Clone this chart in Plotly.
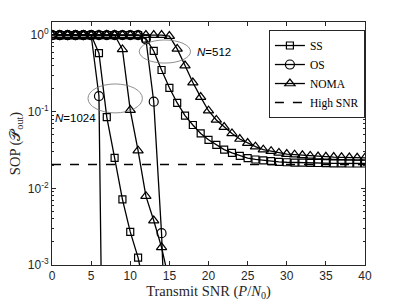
import plotly.graph_objects as go

# ---------------- data ----------------
snr = list(range(0, 41))

# N = 1024
ss_1024 = [1, 1, 1, 1, 1, 1, 0.58, 0.085, 0.025, 0.0072, 0.0027, 0.00125, 0.0004]
os_1024 = [1, 1, 1, 1, 1, 1, 0.16, 1e-9]
noma_1024 = [1, 1, 1, 1, 1, 1, 1, 1, 1, 0.65, 0.105, 0.031, 0.0079, 0.0038, 0.0017, 0.0006]

# N = 512
ss_512 = [1, 1, 1, 1, 1, 1, 1, 1, 1, 1, 1, 1,
          0.9, 0.62, 0.35, 0.205, 0.13, 0.089, 0.067, 0.052, 0.043, 0.037,
          0.032, 0.029, 0.0265, 0.0248, 0.0238, 0.0231, 0.0226, 0.0222, 0.0219,
          0.0217, 0.0216, 0.0215, 0.0214, 0.0213, 0.0212, 0.0212, 0.0211, 0.0211, 0.0211]
os_512 = [1, 1, 1, 1, 1, 1, 1, 1, 1, 1, 1, 1, 0.88, 0.135, 0.0026, 6e-6]
noma_512 = [1, 1, 1, 1, 1, 1, 1, 1, 1, 1, 1, 1, 1, 1, 1,
            0.97, 0.66, 0.40, 0.24, 0.155, 0.103, 0.078, 0.063, 0.052, 0.044,
            0.039, 0.035, 0.032, 0.0305, 0.029, 0.028, 0.0275, 0.027, 0.0265,
            0.026, 0.0258, 0.0256, 0.0254, 0.0252, 0.025, 0.025]

high_snr_x = [0, 40]
high_snr_y = [0.0205, 0.0205]

ytick_vals = [1e-3, 1e-2, 1e-1, 1]
ytick_text = ["10<sup>-3</sup>", "10<sup>-2</sup>", "10<sup>-1</sup>", "10<sup>0</sup>"]
xtick_vals = [0, 5, 10, 15, 20, 25, 30, 35, 40]

# ---------------- figure ----------------
INK = "#262626"
fig = go.Figure()


def add(y, sym, size, name, show):
    fig.add_trace(go.Scatter(
        x=snr[:len(y)], y=y, mode="lines+markers", name=name, showlegend=show,
        line=dict(color="black", width=1.3),
        marker=dict(symbol=sym, size=size, color="black",
                    line=dict(width=1.2, color="black")),
    ))


add(ss_512, "square-open", 7, "SS", True)
add(os_512, "circle-open", 9, "OS", True)
add(noma_512, "triangle-up-open", 9, "NOMA", True)
add(ss_1024, "square-open", 7, "SS", False)
add(os_1024, "circle-open", 9, "OS", False)
add(noma_1024, "triangle-up-open", 9, "NOMA", False)

fig.add_trace(go.Scatter(
    x=high_snr_x, y=high_snr_y, mode="lines", name="High SNR",
    line=dict(color="black", width=1.5, dash="dash"),
))

# ellipses (grey) and labels
fig.add_shape(type="circle", xref="x", yref="y domain",
              x0=4.6, x1=11.55, y0=0.626, y1=0.745,
              line=dict(color="#707070", width=0.8))
fig.add_shape(type="circle", xref="x", yref="y domain",
              x0=11.15, x1=17.7, y0=0.831, y1=0.926,
              line=dict(color="#707070", width=0.8))
fig.add_annotation(x=0.15, y=-1.08, xref="x", yref="y", text="<i>N</i>=1024",
                   showarrow=False, xanchor="left", yanchor="middle",
                   font=dict(family="Liberation Sans", size=11.5, color="black"))
fig.add_annotation(x=18.3, y=-0.218, xref="x", yref="y", text="<i>N</i>=512",
                   showarrow=False, xanchor="left", yanchor="middle",
                   font=dict(family="Liberation Sans", size=11.5, color="black"))

fig.update_layout(
    width=403, height=302,
    margin=dict(l=52, r=38, t=22, b=37, autoexpand=False),
    paper_bgcolor="white", plot_bgcolor="white",
    font=dict(family="Liberation Sans", size=12, color=INK),
    legend=dict(x=0.693, y=0.967, xanchor="left", yanchor="top",
                bgcolor="white", bordercolor=INK, borderwidth=1,
                font=dict(family="Liberation Serif", size=11.5, color="black"),
                itemwidth=30, tracegroupgap=0),
    xaxis=dict(range=[0, 40], tickvals=xtick_vals, showline=True, mirror="ticks",
               linecolor=INK, linewidth=1, ticks="inside", ticklen=4, tickcolor=INK,
               showgrid=False, zeroline=False, automargin=False,
               title=dict(text="Transmit SNR (<i>P</i>/<i>N</i><sub>0</sub>)",
                          font=dict(family="Liberation Serif", size=14.5, color=INK),
                          standoff=2)),
    yaxis=dict(type="log", range=[-3, 0.17], tickmode="array", tickvals=ytick_vals,
               ticktext=ytick_text, showline=True, mirror="ticks",
               linecolor=INK, linewidth=1, ticks="inside", ticklen=4, tickcolor=INK,
               showgrid=False, zeroline=False, automargin=False,
               minor=dict(ticks="inside", ticklen=2, tickcolor=INK, dtick="D1", showgrid=False),
               title=dict(text="SOP (𝒫<sub>out</sub>)",
                          font=dict(family="Liberation Serif", size=14.5, color=INK),
                          standoff=3)),
)

fig.write_html("out.html", config={"displayModeBar": False},
               post_script="document.body.style.margin='0';document.body.style.overflow='hidden';")
